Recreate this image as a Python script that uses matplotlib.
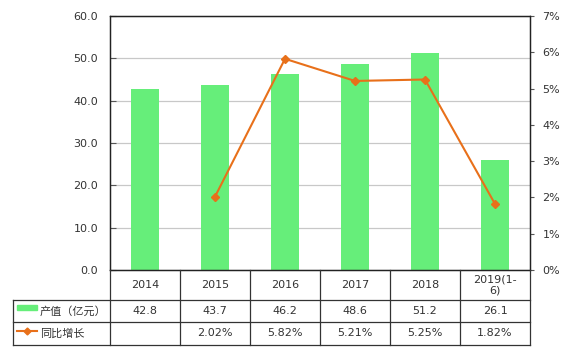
import matplotlib
matplotlib.use("Agg")
import matplotlib.pyplot as plt
from matplotlib.patches import Rectangle
from matplotlib.lines import Line2D

plt.rcParams['font.family'] = ['DejaVu Sans', 'Noto Sans CJK SC']

categories = ["2014", "2015", "2016", "2017", "2018", "2019(1-\n6)"]
output_values = [42.8, 43.7, 46.2, 48.6, 51.2, 26.1]
growth_labels_x = ["2015", "2016", "2017", "2018", "2019(1-\n6)"]
growth_values = [2.02, 5.82, 5.21, 5.25, 1.82]
series_names = ["产值（亿元）", "同比增长"]
left_ticks = [0, 10, 20, 30, 40, 50, 60]
right_ticks = [0, 1, 2, 3, 4, 5, 6, 7]

W, H = 562, 350
GREEN = "#66EE7A"
ORANGE = "#E8701A"
TXT = "#333333"
FS = 8

fig = plt.figure(figsize=(W / 100, H / 100), dpi=100)
ax_l, ax_r, ax_t, ax_b = 110, 530, 16, 270
ax = fig.add_axes([ax_l / W, 1 - ax_b / H, (ax_r - ax_l) / W, (ax_b - ax_t) / H])

x = list(range(len(categories)))
ax.bar(x, output_values, width=0.41, color=GREEN, zorder=2)
ax.set_xlim(-0.5, len(categories) - 0.5)
ax.set_ylim(0, 60)
ax.set_yticks(left_ticks)
ax.set_yticklabels([f"{v:.1f}" for v in left_ticks], fontsize=FS, color=TXT)
ax.set_xticks([])
ax.yaxis.grid(True, color="#c8c8c8", linewidth=0.9, zorder=0)
ax.set_axisbelow(True)
ax.tick_params(axis='y', length=4, direction='in', color="#555555", pad=8.5)
for s in ax.spines.values():
    s.set_color("#222222")
    s.set_linewidth(0.9)

ax2 = ax.twinx()
gx = [categories.index(c) for c in growth_labels_x]
ax2.plot(gx, growth_values, color=ORANGE, linewidth=1.5, marker='D', markersize=4,
         zorder=5)
ax2.set_ylim(0, 7)
ax2.set_yticks(right_ticks)
ax2.set_yticklabels([f"{v}%" for v in right_ticks], fontsize=FS, color=TXT)
ax2.tick_params(axis='y', length=3, direction='out', color="#555555", pad=6)
for s in ax2.spines.values():
    s.set_color("#222222")
    s.set_linewidth(0.9)

# ---- data table drawn below the axes ----
def fx(px):
    return px / W

def fy(py):
    return 1 - py / H

col_w = (ax_r - ax_l) / len(categories)
lab_l = 13
rows = [270, 300, 322, 345]
lc = "#333333"
lw = 0.9

for py in rows[1:]:
    fig.add_artist(Line2D([fx(lab_l), fx(ax_r)], [fy(py), fy(py)], color=lc, lw=lw))
fig.add_artist(Line2D([fx(lab_l), fx(lab_l)], [fy(rows[1]), fy(rows[3])], color=lc, lw=lw))
for i in range(len(categories) + 1):
    px = ax_l + i * col_w
    fig.add_artist(Line2D([fx(px), fx(px)], [fy(rows[0]), fy(rows[3])], color=lc, lw=lw))

for i, c in enumerate(categories):
    cx = ax_l + (i + 0.5) * col_w
    fig.text(fx(cx), fy((rows[0] + rows[1]) / 2), c, ha='center', va='center',
             fontsize=FS, color=TXT, linespacing=1.1)

ry1 = (rows[1] + rows[2]) / 2
fig.add_artist(Rectangle((fx(17), fy(310)), fx(20), 5 / H, color=GREEN))
fig.text(fx(40), fy(ry1), series_names[0], ha='left', va='center', fontsize=FS,
         color=TXT, family=['Noto Sans CJK SC'])
for i, v in enumerate(output_values):
    cx = ax_l + (i + 0.5) * col_w
    fig.text(fx(cx), fy(ry1), f"{v:.1f}", ha='center', va='center', fontsize=FS, color=TXT)

ry2 = (rows[2] + rows[3]) / 2
fig.add_artist(Line2D([fx(17), fx(37)], [fy(331), fy(331)], color=ORANGE, lw=1.5))
fig.add_artist(Line2D([fx(27)], [fy(331)], color=ORANGE, marker='D', markersize=3.5,
                      linestyle='none'))
fig.text(fx(40), fy(ry2), series_names[1], ha='left', va='center', fontsize=FS,
         color=TXT, family=['Noto Sans CJK SC'])
for c, v in zip(growth_labels_x, growth_values):
    i = categories.index(c)
    cx = ax_l + (i + 0.5) * col_w
    fig.text(fx(cx), fy(ry2), f"{v:.2f}%", ha='center', va='center', fontsize=FS, color=TXT)

fig.savefig("out.png", dpi=100)
